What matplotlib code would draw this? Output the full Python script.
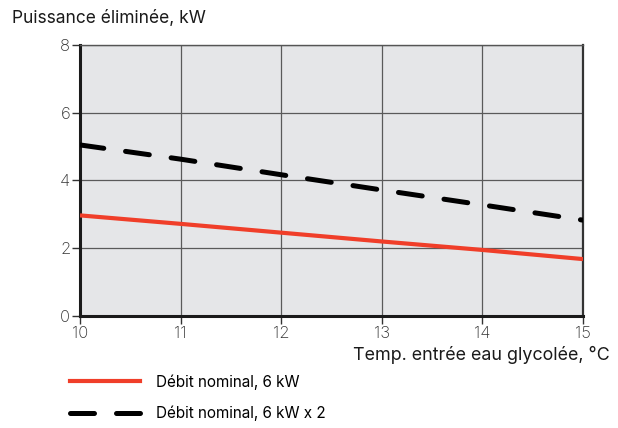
import matplotlib.pyplot as plt
from matplotlib.lines import Line2D

plt.rcParams['font.family'] = ['Inter', 'DejaVu Sans']

# Data
temps = [10, 11, 12, 13, 14, 15]
debit_6kw = [2.97, 2.72, 2.46, 2.20, 1.95, 1.68]
debit_6kw_x2 = [5.05, 4.63, 4.17, 3.72, 3.28, 2.83]
labels = ['Débit nominal, 6 kW', 'Débit nominal, 6 kW x 2']

red = '#f03e29'

fig = plt.figure(figsize=(6.18, 4.28), dpi=100)
ax = fig.add_axes([80/618, 1 - 316/428, (583 - 80)/618, (316 - 45)/428])
ax.set_facecolor('#e5e6e8')

ax.plot(temps, debit_6kw, color=red, lw=3.0, solid_capstyle='butt', zorder=3)
ax.plot(temps, debit_6kw_x2, color='black', lw=3.6, dashes=(4.8, 4.4),
        dash_capstyle='round', zorder=3)

ax.set_xlim(10, 15)
ax.set_ylim(0, 8)
ax.set_xticks(range(10, 16))
ax.set_yticks(range(0, 9, 2))
ax.grid(True, color='#5a5a5a', lw=0.9)
ax.set_axisbelow(True)

for side in ['left', 'bottom']:
    ax.spines[side].set_linewidth(2.2)
    ax.spines[side].set_color('#1a1a1a')
ax.spines['top'].set_linewidth(1.0)
ax.spines['top'].set_color('#555555')
ax.spines['right'].set_linewidth(1.6)
ax.spines['right'].set_color('#333333')

ax.tick_params(axis='both', labelsize=12, length=6, width=1, color='#333333',
               labelcolor='#333333', pad=1)
for lab in ax.get_xticklabels() + ax.get_yticklabels():
    lab.set_fontweight('light')

fig.text(12/618, 1 - 18/428, 'Puissance éliminée, kW', fontsize=12.5,
         ha='left', va='center', color='#1a1a1a')
fig.text(610/618, 1 - 355/428, 'Temp. entrée eau glycolée, °C', fontsize=12.9,
         ha='right', va='center', color='#1a1a1a')

handles = [Line2D([], [], color=red, lw=3.0),
           Line2D([], [], color='black', lw=3.6, dashes=(4.8, 4.4), dash_capstyle='round')]
fig.legend(handles, labels, loc='upper left', bbox_to_anchor=(70/618, 1 - 374/428),
           frameon=False, fontsize=11, handlelength=4.6, handletextpad=1.0,
           labelspacing=1.05, borderpad=0, borderaxespad=0)

fig.savefig('out.png', dpi=100)
